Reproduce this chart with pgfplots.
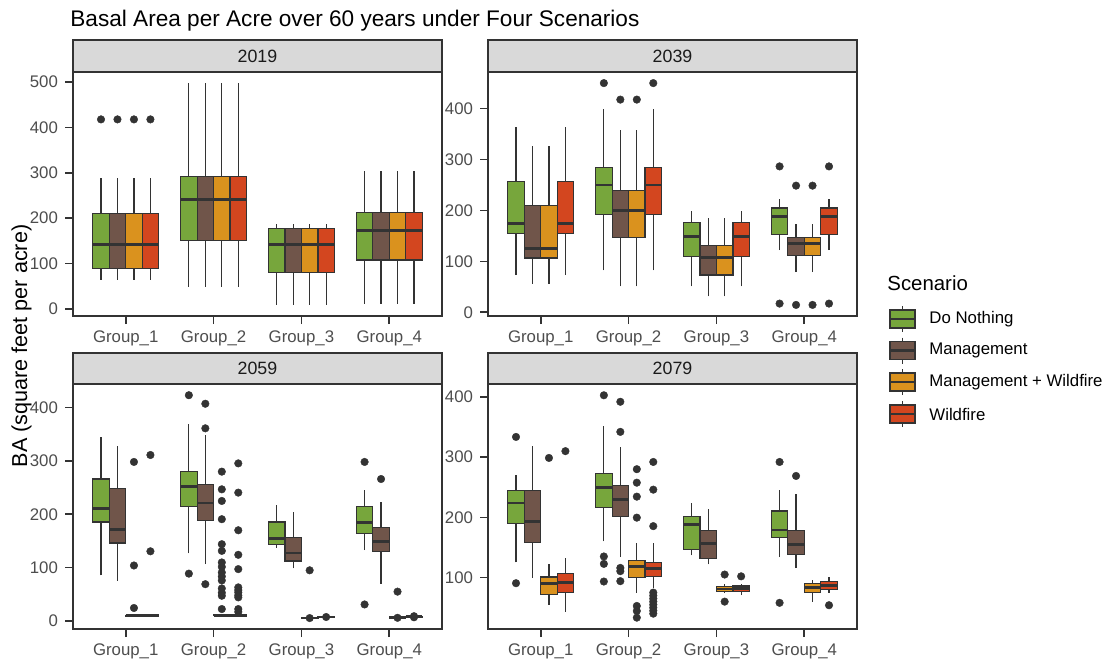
\documentclass[border=0pt]{standalone}
\usepackage{fontspec}
\setmainfont{Liberation Sans}
\usepackage{pgfplots}
\pgfplotsset{compat=1.18}
\definecolor{g20}{HTML}{333333}
\definecolor{g30}{HTML}{4D4D4D}
\definecolor{g10}{HTML}{1A1A1A}
\definecolor{stripc}{HTML}{D9D9D9}
\definecolor{cDN}{HTML}{77A63C}
\definecolor{cM}{HTML}{70554A}
\definecolor{cMW}{HTML}{DA921E}
\definecolor{cW}{HTML}{D3461F}
\pgfplotsset{panel/.style={scale only axis, width=184.5pt, xmin=0.4, xmax=4.6,
  xtick={1,2,3,4}, xticklabels={Group\_1,Group\_2,Group\_3,Group\_4},
  tick pos=left, tick align=outside, major tick length=4pt,
  axis line style={draw=g20,line width=0.8pt},
  tick style={draw=g20,line width=0.8pt},
  tick label style={font=\fontsize{8.4}{10}\selectfont, text=g30},
  /pgf/number format/assume math mode=true,
  anchor=south west, clip=false,
}}
% box: centre, colour, lower whisker, lower quartile, median, upper quartile, upper whisker
\newcommand{\bn}[7]{%
\addplot[g20,line width=0.6pt] table[row sep=\\,x expr=#1,y=y]{y\\#3\\#7\\};
\addplot[fill=#2,draw=g20,line width=0.6pt,line join=miter] table[row sep=\\,x expr=#1+\thisrow{d},y=y]{d y\\-0.09375 #4\\0.09375 #4\\0.09375 #6\\-0.09375 #6\\-0.09375 #4\\0.09375 #4\\};
\addplot[g20,line width=1.4pt] table[row sep=\\,x expr=#1+\thisrow{d},y=y]{d y\\-0.09375 #5\\0.09375 #5\\};}
% box with outliers: same + list of outliers
\newcommand{\bx}[8]{\bn{#1}{#2}{#3}{#4}{#5}{#6}{#7}%
\addplot[only marks,mark=*,mark size=1.9pt,g20,mark options={fill=g20,draw=g20,line width=0.2pt}] table[row sep=\\,x expr=#1,y=y]{y\\#8};}
\begin{document}
\begin{tikzpicture}
\useasboundingbox (0,0) rectangle (553.5pt,-329.5pt);
% ---------------- 2019 ----------------
\begin{axis}[panel, at={(36.5pt,-158pt)}, height=122pt, ymin=-15.6, ymax=522, ytick={0,100,200,300,400,500}]
\bx{0.71875}{cDN}{64}{89.7}{142.6}{209.6}{289}{417.6\\}
\bx{0.90625}{cM}{64}{89.7}{142.6}{209.6}{289}{417.6\\}
\bx{1.09375}{cMW}{64}{89.7}{142.6}{209.6}{289}{417.6\\}
\bx{1.28125}{cW}{64}{89.7}{142.6}{209.6}{289}{417.6\\}
\bn{1.71875}{cDN}{49.3}{150.7}{241}{292}{497.8}
\bn{1.90625}{cM}{49.3}{150.7}{241}{292}{497.8}
\bn{2.09375}{cMW}{49.3}{150.7}{241}{292}{497.8}
\bn{2.28125}{cW}{49.3}{150.7}{241}{292}{497.8}
\bn{2.71875}{cDN}{8.8}{79.4}{142.6}{178}{187.5}
\bn{2.90625}{cM}{8.8}{79.4}{142.6}{178}{187.5}
\bn{3.09375}{cMW}{8.8}{79.4}{142.6}{178}{187.5}
\bn{3.28125}{cW}{8.8}{79.4}{142.6}{178}{187.5}
\bn{3.71875}{cDN}{11}{108}{173.5}{212.5}{304.4}
\bn{3.90625}{cM}{11}{108}{173.5}{212.5}{304.4}
\bn{4.09375}{cMW}{11}{108}{173.5}{212.5}{304.4}
\bn{4.28125}{cW}{11}{108}{173.5}{212.5}{304.4}
\end{axis}
% ---------------- 2039 ----------------
\begin{axis}[panel, at={(244pt,-158pt)}, height=122pt, ymin=-7.4, ymax=471.8, ytick={0,100,200,300,400}]
\bn{0.71875}{cDN}{73}{155.3}{174.2}{256.4}{363.4}
\bn{0.90625}{cM}{56}{106.4}{124.6}{209.5}{325.6}
\bn{1.09375}{cMW}{56}{106.4}{124.6}{209.5}{325.6}
\bn{1.28125}{cW}{73}{155.3}{174.2}{256.4}{363.4}
\bx{1.71875}{cDN}{82.2}{191.2}{250}{284.5}{398.7}{450\\}
\bx{1.90625}{cM}{51}{147.5}{200.3}{239.5}{358.2}{417.6\\}
\bx{2.09375}{cMW}{51}{147.5}{200.3}{239.5}{358.2}{417.6\\}
\bx{2.28125}{cW}{82.2}{191.2}{250}{284.5}{398.7}{450\\}
\bn{2.71875}{cDN}{51}{109.6}{148.8}{176.8}{199.7}
\bn{2.90625}{cM}{31.3}{73}{107.7}{130.5}{186}
\bn{3.09375}{cMW}{31.3}{73}{107.7}{130.5}{186}
\bn{3.28125}{cW}{51}{109.6}{148.8}{176.8}{199.7}
\bx{3.71875}{cDN}{122}{152.7}{187.3}{204.9}{221.9}{286.4\\17\\}
\bx{3.90625}{cM}{79}{111.6}{135.7}{146.8}{173}{248.6\\14.4\\}
\bx{4.09375}{cMW}{79}{111.6}{135.7}{146.8}{173}{248.6\\14.4\\}
\bx{4.28125}{cW}{122}{152.7}{187.3}{204.9}{221.9}{286.4\\17\\}
\end{axis}
% ---------------- 2059 ----------------
\begin{axis}[panel, at={(36.5pt,-314.5pt)}, height=122.5pt, ymin=-15, ymax=444, ytick={0,100,200,300,400}]
\bn{0.71875}{cDN}{85.6}{185.6}{210.6}{266}{345}
\bn{0.90625}{cM}{75}{146}{171.9}{247.5}{327.5}
\bx{1.09375}{cMW}{8.5}{9.2}{10}{11}{11.5}{298\\104\\24.4\\}
\bx{1.28125}{cW}{8.5}{9.2}{10}{11}{11.5}{311\\130.6\\}
\bx{1.71875}{cDN}{126.5}{214.4}{251.9}{279.4}{370}{423\\88.75\\}
\bx{1.90625}{cM}{106.5}{188}{221}{255.6}{348}{407\\361\\69\\}
\bx{2.09375}{cMW}{9}{9.7}{10.5}{11.5}{12}{279.8\\246.7\\224.9\\190.7\\143.9\\131.4\\109.7\\101.5\\91\\83.5\\76\\61\\53\\47.3\\22.4\\}
\bx{2.28125}{cW}{9}{9.7}{10.5}{11.5}{12}{295.3\\240.5\\170\\124\\97.2\\63\\58\\53.6\\48\\44.3\\22.4\\17\\}
\bn{2.71875}{cDN}{137.5}{143}{155}{185.6}{218}
\bn{2.90625}{cM}{98.75}{112.5}{127.5}{156}{204}
\bx{3.09375}{cMW}{3}{4.5}{5.5}{6.5}{8}{95\\5.5\\}
\bx{3.28125}{cW}{5}{6.5}{7.5}{8.5}{10}{7.5\\}
\bx{3.71875}{cDN}{133}{164}{184}{214}{245.6}{298\\31\\}
\bx{3.90625}{cM}{70}{130.6}{149}{175}{223}{266\\}
\bx{4.09375}{cMW}{4}{5.5}{6.5}{7.5}{9}{55\\6\\}
\bx{4.28125}{cW}{5}{7}{8}{9}{11}{9\\7\\}
\end{axis}
% ---------------- 2079 ----------------
\begin{axis}[panel, at={(244pt,-314.5pt)}, height=122.5pt, ymin=14.5, ymax=421.5, ytick={100,200,300,400}]
\bx{0.71875}{cDN}{125}{190.2}{224}{244.5}{270}{333.6\\90.6\\}
\bn{0.90625}{cM}{99.5}{157.6}{193.5}{245}{318}
\bx{1.09375}{cMW}{55}{72.3}{90}{101}{123}{298.7\\}
\bx{1.28125}{cW}{43.5}{75}{91.7}{106.6}{132.7}{310\\}
\bx{1.71875}{cDN}{160}{217}{249}{273}{352}{402.8\\135\\122.7\\93.4\\}
\bx{1.90625}{cM}{134}{201.3}{230}{252.8}{317.5}{392\\342\\116\\110.6\\94\\}
\bx{2.09375}{cMW}{74.5}{100}{119}{128.8}{157.7}{280\\257.6\\234.4\\199.5\\52.8\\44.5\\33.4\\}
\bx{2.28125}{cW}{82}{102.2}{114.5}{125}{157.7}{292\\246\\185.4\\75\\70\\65\\60\\55\\50\\45\\40\\}
\bn{2.71875}{cDN}{137}{146}{187.5}{202}{223.6}
\bn{2.90625}{cM}{122}{132}{157}{178.6}{213.5}
\bx{3.09375}{cMW}{75}{76.8}{81}{85}{89}{105\\60\\}
\bx{3.28125}{cW}{71}{76.8}{82}{86}{89}{102\\}
\bx{3.71875}{cDN}{133.8}{166.4}{179}{210.7}{246}{292\\58\\}
\bx{3.90625}{cM}{115.5}{138.7}{154.8}{178.6}{239.5}{268.8\\}
\bn{4.09375}{cMW}{60}{74.5}{83.4}{90}{95.6}
\bx{4.28125}{cW}{74.5}{80.6}{87}{93.4}{100.5}{54\\}
\end{axis}
% ---------------- strips ----------------
\begin{scope}[line width=0.8pt, draw=g20]
\draw[fill=stripc] (36.5pt,-20pt) rectangle (221pt,-36pt);
\draw[fill=stripc] (244pt,-20pt) rectangle (428.5pt,-36pt);
\draw[fill=stripc] (36.5pt,-176.5pt) rectangle (221pt,-192pt);
\draw[fill=stripc] (244pt,-176.5pt) rectangle (428.5pt,-192pt);
\end{scope}
\begin{scope}[every node/.style={font=\fontsize{8.9}{11}\selectfont, text=g10}]
\node at (128.75pt,-28pt) {2019};
\node at (336.25pt,-28pt) {2039};
\node at (128.75pt,-184.25pt) {2059};
\node at (336.25pt,-184.25pt) {2079};
\end{scope}
% ---------------- title and y label ----------------
\node[anchor=base west, inner sep=0pt, font=\fontsize{11.3}{13}\selectfont] at (35pt,-13pt) {Basal Area per Acre over 60 years under Four Scenarios};
\node[rotate=90, inner sep=0pt, font=\fontsize{10.8}{13}\selectfont] at (10.75pt,-173pt) {BA (square feet per acre)};
% ---------------- legend ----------------
\node[anchor=base west, inner sep=0pt, font=\fontsize{10.2}{12}\selectfont] at (443.5pt,-145.3pt) {Scenario};
\foreach \c/\yy/\lab in {cDN/-159.5/Do Nothing, cM/-175.25/Management, cMW/-191/Management + Wildfire, cW/-207/Wildfire}{
  \draw[g20, line width=0.6pt] (451.25pt,\yy pt+6.5pt) -- (451.25pt,\yy pt-6.5pt);
  \draw[g20, line width=0.6pt, fill=\c] (445pt,\yy pt-4.5pt) rectangle (457.5pt,\yy pt+4.5pt);
  \draw[g20, line width=1.2pt] (445pt,\yy pt) -- (457.5pt,\yy pt);
  \node[anchor=west, font=\fontsize{8.4}{10}\selectfont, inner sep=0pt] at (464.5pt,\yy pt) {\lab};
}
\end{tikzpicture}
\end{document}
